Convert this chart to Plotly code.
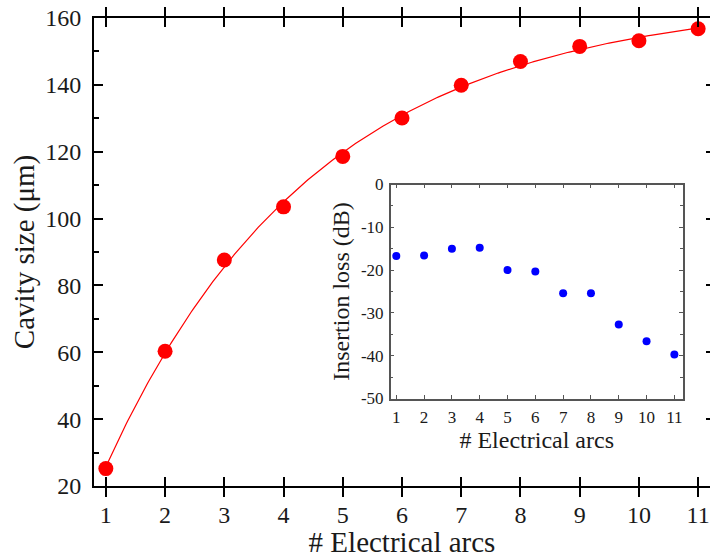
import numpy as np
import plotly.graph_objects as go

# Number of electrical arcs applied
arcs = [1, 2, 3, 4, 5, 6, 7, 8, 9, 10, 11]
# Measured cavity size (µm)
cavity_um = [25.2, 60.3, 87.6, 103.5, 118.6, 130.1, 139.9, 147.0, 151.5, 153.2, 156.8]
# Insertion loss (dB)
insertion_db = [-16.7, -16.6, -15.0, -14.8, -20.0, -20.3, -25.4, -25.4, -32.7, -36.6, -39.7]
# Insertion-loss axis ticks, written with a plain hyphen
loss_ticks = [0, -10, -20, -30, -40, -50]
loss_labels = ["0", "-10", "-20", "-30", "-40", "-50"]

# Saturating exponential fit: y = A - B*exp(-x/tau)
x = np.array(arcs, float)
y = np.array(cavity_um, float)
best = None
for tau in np.linspace(0.5, 10, 2000):
    M = np.column_stack([np.ones_like(x), -np.exp(-x / tau)])
    coef, res, *_ = np.linalg.lstsq(M, y, rcond=None)
    err = np.sum((M @ coef - y) ** 2)
    if best is None or err < best[0]:
        best = (err, tau, coef)
_, tau, (A, B) = best
xf = np.linspace(1, 11, 300)
yf = A - B * np.exp(-xf / tau)

FONT = "Liberation Serif"
INK = "#1a1a1a"
GRAY = "#555555"

fig = go.Figure()
fig.add_trace(go.Scatter(x=xf, y=yf, mode="lines",
                         line=dict(color="red", width=1.2),
                         hoverinfo="skip", showlegend=False))
fig.add_trace(go.Scatter(x=arcs, y=cavity_um, mode="markers",
                         marker=dict(color="red", size=15),
                         showlegend=False))
# short right-hand ticks for the main panel
fig.add_trace(go.Scatter(x=[None], y=[None], xaxis="x", yaxis="y3",
                         showlegend=False, hoverinfo="skip"))
fig.add_trace(go.Scatter(x=arcs, y=insertion_db, mode="markers",
                         xaxis="x2", yaxis="y2",
                         marker=dict(color="#0000ff", size=8),
                         showlegend=False))

fig.update_layout(
    width=710, height=558,
    margin=dict(l=94, r=0, t=18, b=67),
    paper_bgcolor="white", plot_bgcolor="white",
    font=dict(family=FONT, color=INK),
    xaxis=dict(
        domain=[0, 1], range=[0.8, 11.2],
        tickmode="array", tickvals=arcs, ticktext=[str(a) for a in arcs],
        ticks="inside", ticklen=9, tickwidth=2, tickcolor="black",
        showline=True, linewidth=2, linecolor="black", mirror="allticks",
        showgrid=False, zeroline=False,
        tickfont=dict(size=24, family=FONT, color=INK),
        ticklabelstandoff=6,
        title=dict(text="# Electrical arcs", font=dict(size=29, family=FONT, color=INK),
                   standoff=10),
    ),
    yaxis=dict(
        domain=[0, 1], range=[20, 160], dtick=20,
        ticks="inside", ticklen=9, tickwidth=2, tickcolor="black",
        minor=dict(dtick=10, ticks="inside", ticklen=5, tickwidth=2, tickcolor="black"),
        showline=True, linewidth=2, linecolor="black", mirror=False,
        showgrid=False, zeroline=False,
        tickfont=dict(size=24, family=FONT, color=INK),
        ticklabelstandoff=6,
        title=dict(text="Cavity size (μm)", font=dict(size=29, family=FONT, color=INK),
                   standoff=2),
    ),
    yaxis3=dict(
        overlaying="y", side="right", range=[20, 160], dtick=20,
        ticks="inside", ticklen=4, tickwidth=2, tickcolor="black",
        showticklabels=False, showline=False, showgrid=False, zeroline=False,
    ),
    xaxis2=dict(
        domain=[0.4817, 0.9557], anchor="y2", range=[0.8, 11.3],
        tickmode="array", tickvals=arcs, ticktext=[str(a) for a in arcs],
        ticks="inside", ticklen=4, tickwidth=1.2, tickcolor=GRAY,
        showline=True, linewidth=1.5, linecolor=GRAY, mirror="allticks",
        showgrid=False, zeroline=False,
        tickfont=dict(size=17, family=FONT, color=INK),
        ticklabelstandoff=2,
        title=dict(text="# Electrical arcs", font=dict(size=24, family=FONT, color=INK),
                   standoff=4),
    ),
    yaxis2=dict(
        domain=[0.1869, 0.6442], anchor="x2", range=[-50, 0],
        tickmode="array", tickvals=loss_ticks, ticktext=loss_labels,
        ticks="inside", ticklen=4, tickwidth=1.2, tickcolor=GRAY,
        minor=dict(dtick=5, ticks="inside", ticklen=3, tickwidth=1.2, tickcolor=GRAY),
        showline=True, linewidth=1.5, linecolor=GRAY, mirror="allticks",
        showgrid=False, zeroline=False,
        tickfont=dict(size=17, family=FONT, color=INK),
        ticklabelstandoff=2,
        title=dict(text="Insertion loss (dB)", font=dict(size=24, family=FONT, color=INK),
                   standoff=4),
    ),
)

fig.write_html("out.html")
